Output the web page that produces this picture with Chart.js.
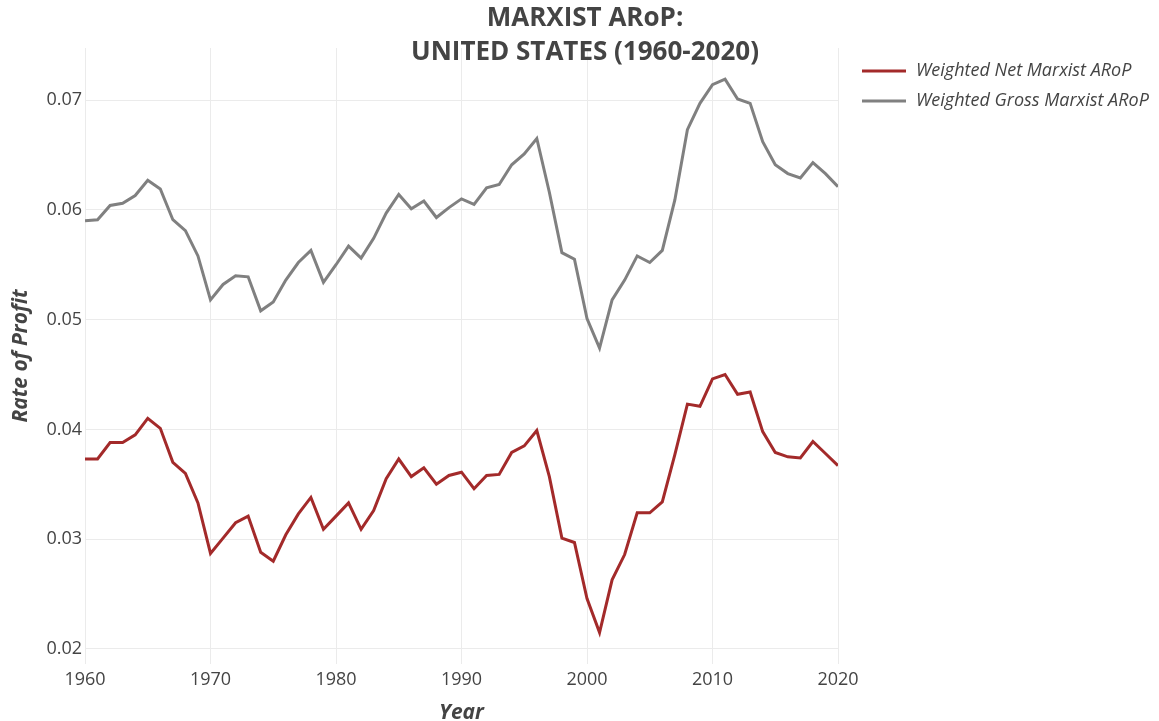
<!DOCTYPE html>
<html>
<head>
<meta charset="utf-8">
<script src="https://cdn.jsdelivr.net/npm/chart.js@4.4.1/dist/chart.umd.min.js"></script>
<style>
  body { margin: 0; background: #fff; }
  #wrap { width: 1159px; height: 721px; }
</style>
</head>
<body>
<div id="wrap"><canvas id="aropChart" width="1159" height="721"></canvas></div>
<script>
const years = [];
for (let y = 1960; y <= 2020; y++) years.push(y);

const netArop = [
  0.0373, 0.0373, 0.0388, 0.0388, 0.0395, 0.0410, 0.0401, 0.0370, 0.0360, 0.0333,
  0.0287, 0.0301, 0.0315, 0.0321, 0.0288, 0.0280, 0.0304, 0.0323, 0.0338, 0.0309,
  0.0321, 0.0333, 0.0309, 0.0326, 0.0355, 0.0373, 0.0357, 0.0365, 0.0350, 0.0358,
  0.0361, 0.0346, 0.0358, 0.0359, 0.0379, 0.0385, 0.0399, 0.0357, 0.0301, 0.0297,
  0.0246, 0.0215, 0.0263, 0.0286, 0.0324, 0.0324, 0.0334, 0.0377, 0.0423, 0.0421,
  0.0446, 0.0450, 0.0432, 0.0434, 0.0398, 0.0379, 0.0375, 0.0374, 0.0389, 0.0378,
  0.0367
];

const grossArop = [
  0.0590, 0.0591, 0.0604, 0.0606, 0.0613, 0.0627, 0.0619, 0.0591, 0.0581, 0.0558,
  0.0518, 0.0532, 0.0540, 0.0539, 0.0508, 0.0516, 0.0536, 0.0552, 0.0563, 0.0534,
  0.0550, 0.0567, 0.0556, 0.0574, 0.0597, 0.0614, 0.0601, 0.0608, 0.0593, 0.0602,
  0.0610, 0.0605, 0.0620, 0.0623, 0.0641, 0.0651, 0.0665, 0.0616, 0.0561, 0.0555,
  0.0501, 0.0474, 0.0518, 0.0536, 0.0558, 0.0552, 0.0563, 0.0609, 0.0673, 0.0697,
  0.0714, 0.0719, 0.0701, 0.0697, 0.0662, 0.0641, 0.0633, 0.0629, 0.0643, 0.0633,
  0.0621
];

const titleLines = ['MARXIST ARoP:', 'UNITED STATES (1960-2020)'];
const seriesNames = ['Weighted Net Marxist ARoP', 'Weighted Gross Marxist ARoP'];

const FONT = '"Open Sans", "Noto Sans", sans-serif';
const TEXT = '#444';

// title + legend drawn by hand so they sit where the original has them
const decor = {
  id: 'decor',
  afterDraw(chart) {
    const c = chart.ctx;
    c.save();
    c.fillStyle = TEXT;
    c.textAlign = 'center';
    c.textBaseline = 'middle';
    c.font = 'bold 26px ' + FONT;
    c.fillText(titleLines[0], 585, 19);
    c.fillText(titleLines[1], 585, 53);

    c.font = 'italic 18px ' + FONT;
    c.textAlign = 'left';
    chart.data.datasets.forEach((ds, i) => {
      const y = 71 + i * 30;
      c.strokeStyle = ds.borderColor;
      c.lineWidth = 3;
      c.beginPath();
      c.moveTo(862, y);
      c.lineTo(906, y);
      c.stroke();
      c.fillText(ds.label, 916, y);
    });
    c.restore();
  }
};

const ctx = document.getElementById('aropChart').getContext('2d');

const aropChart = new Chart(ctx, {
  type: 'line',
  data: {
    datasets: [
      {
        label: seriesNames[0],
        data: years.map((y, i) => ({ x: y, y: netArop[i] })),
        borderColor: '#a32a2a',
        borderWidth: 3,
        pointRadius: 0,
        tension: 0
      },
      {
        label: seriesNames[1],
        data: years.map((y, i) => ({ x: y, y: grossArop[i] })),
        borderColor: '#808080',
        borderWidth: 3,
        pointRadius: 0,
        tension: 0
      }
    ]
  },
  options: {
    responsive: false,
    animation: false,
    layout: { padding: { top: 48, left: 0, right: 321, bottom: 0 } },
    plugins: {
      legend: { display: false },
      tooltip: { enabled: false }
    },
    scales: {
      x: {
        type: 'linear',
        min: 1960,
        max: 2020,
        afterFit: (s) => { s.height = 57; },
        ticks: {
          stepSize: 10,
          padding: 5,
          color: TEXT,
          font: { family: FONT, size: 18 },
          callback: (v) => String(v)
        },
        grid: { color: '#ebebeb', drawTicks: false },
        border: { display: false },
        title: {
          display: true,
          text: 'Year',
          color: TEXT,
          padding: { top: 0, bottom: -5 },
          font: { family: FONT, size: 21, weight: 'bold', style: 'italic' }
        }
      },
      y: {
        min: 0.01863,
        max: 0.07474,
        afterFit: (s) => { s.width = 85; },
        ticks: {
          stepSize: 0.01,
          includeBounds: false,
          padding: 3,
          color: TEXT,
          font: { family: FONT, size: 18 },
          callback: (v) => v.toFixed(2)
        },
        grid: { color: '#ebebeb', drawTicks: false },
        border: { display: false },
        title: {
          display: true,
          text: 'Rate of Profit',
          color: TEXT,
          padding: { top: 8, bottom: 0 },
          font: { family: FONT, size: 21, weight: 'bold', style: 'italic' }
        }
      }
    }
  },
  plugins: [decor]
});
</script>
</body>
</html>
